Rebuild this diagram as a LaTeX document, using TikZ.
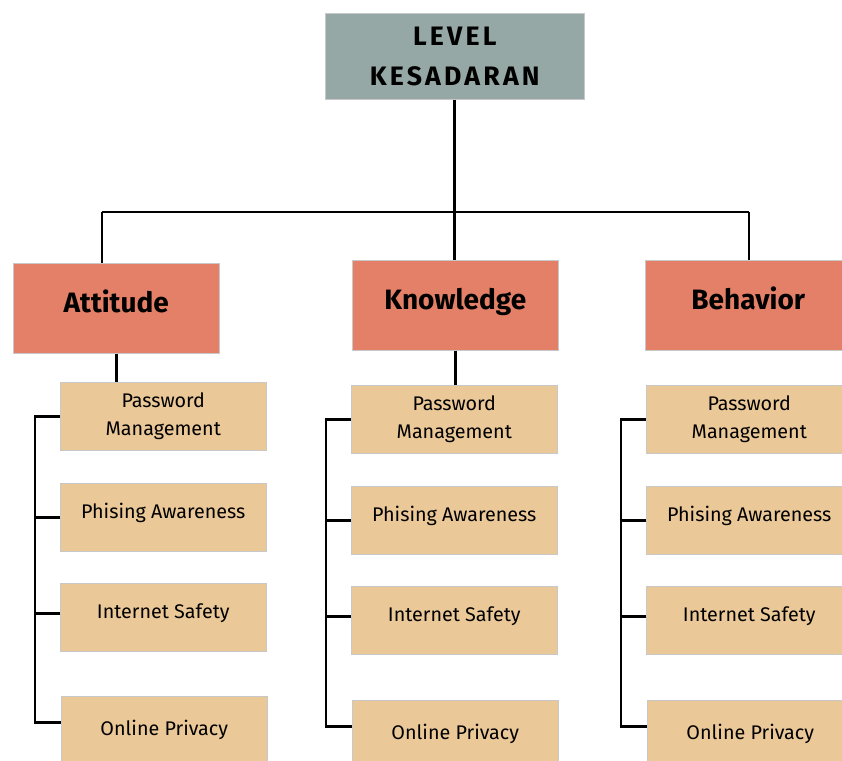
\documentclass[tikz,border=0pt]{standalone}
\usepackage{fontspec}
\setmainfont{Fira Sans}
\newfontfamily\titlefont[LetterSpace=12]{Fira Sans}
\definecolor{topgray}{RGB}{149,168,165}
\definecolor{catred}{RGB}{229,128,104}
\definecolor{leafsand}{RGB}{235,200,152}
\definecolor{edgegray}{RGB}{200,200,200}
\tikzset{
  topbox/.style={draw=edgegray, fill=topgray, anchor=north west, minimum width=194.25pt, minimum height=64.5pt, align=center, inner sep=0.75pt, font=\titlefont\bfseries\fontsize{20}{30}\selectfont},
  catbox/.style={draw=edgegray, fill=catred, anchor=north west, minimum width=154.5pt, minimum height=67.5pt, inner sep=0.75pt, text height=14pt, text depth=8pt, font=\bfseries\fontsize{21}{25}\selectfont},
  leafbox/.style={draw=edgegray, fill=leafsand, anchor=north west, minimum width=154.5pt, minimum height=51pt, align=center, inner sep=0.75pt, font=\fontsize{14.8}{21}\selectfont},
  leafone/.style={leafbox, text height=10pt, text depth=8.6pt},
  conn/.style={draw=black, line width=2pt}
}
\begin{document}
\begin{tikzpicture}[x=0.75pt,y=0.75pt,yscale=-1,xscale=1]
\useasboundingbox (0,0) rectangle (842,760);

% Top node
\node [topbox] (top) at (325,13) {LEVEL\\KESADARAN};

% Category nodes
\node [catbox] (att) at (13,263) {Attitude};
\node [catbox] (kno) at (352,260) {Knowledge};
\node [catbox] (beh) at (645,260) {Behavior};

% Leaf nodes, Attitude
\node [leafbox] (attpw) at (60,382) {Password\\Management};
\node [leafone] (attph) at (60,483) {Phising Awareness};
\node [leafone] (attin) at (60,583) {Internet Safety};
\node [leafbox] (attop) at (61,696) {Online Privacy};
% Leaf nodes, Knowledge
\node [leafbox] (knopw) at (351,385) {Password\\Management};
\node [leafone] (knoph) at (351,486) {Phising Awareness};
\node [leafone] (knoin) at (351,586) {Internet Safety};
\node [leafbox] (knoop) at (352,700) {Online Privacy};
% Leaf nodes, Behavior
\node [leafbox] (behpw) at (646,385) {Password\\Management};
\node [leafone] (behph) at (646,486) {Phising Awareness};
\node [leafone] (behin) at (646,586) {Internet Safety};
\node [leafbox] (behop) at (647,700) {Online Privacy};

% Tree lines
\coordinate (barl) at (102,212);
\coordinate (barr) at (749,212);
\draw [conn] (barl) -- (barr);
\draw [conn] (top.south) -- (top.south |- kno.north);
\draw [conn] (barl) -- (barl |- att.north);
\draw [conn] (barr) -- (barr |- beh.north);
\draw [conn] (att.south) -- (att.south |- attpw.north);
\draw [conn] (kno.south) -- (kno.south |- knopw.north);

% Brackets
\foreach \c in {att,kno,beh}{
  \draw [conn] (\c pw.west) -- ++(-25,0) |- ([yshift=-6pt]\c op.west);
  \draw [conn] (\c ph.west) -- ++(-25,0);
  \draw [conn] ([yshift=-3pt]\c in.west) -- ++(-25,0);
}

\end{tikzpicture}
\end{document}
